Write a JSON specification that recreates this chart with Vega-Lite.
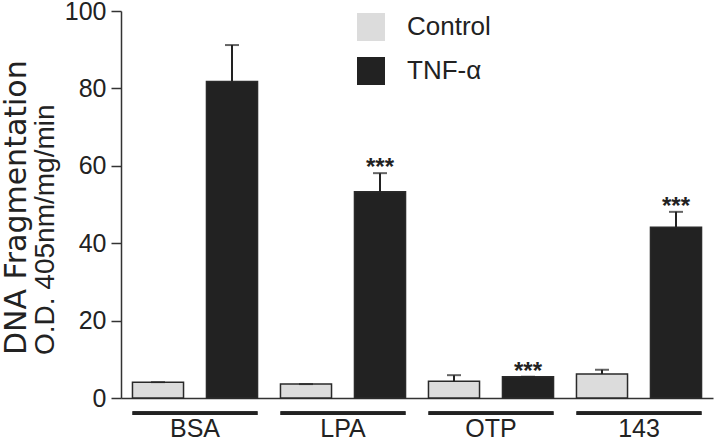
{
  "$schema": "https://vega.github.io/schema/vega-lite/v6.json",
  "width": 592,
  "height": 387,
  "autosize": "none",
  "padding": {"left": 121, "top": 11, "right": 7, "bottom": 45},
  "background": "white",
  "config": {"view": {"stroke": null}},
  "title": {
    "text": "DNA Fragmentation",
    "subtitle": "O.D. 405nm/mg/min",
    "orient": "left",
    "anchor": "start",
    "frame": "group",
    "font": "DejaVu Sans",
    "fontSize": 30,
    "fontWeight": "normal",
    "color": "#222222",
    "subtitleFont": "Liberation Sans",
    "subtitleFontSize": 28,
    "subtitleColor": "#222222",
    "subtitlePadding": 0,
    "offset": 4,
    "dx": 43
  },
  "data": {
    "values": [
      {"group": "BSA", "treatment": "Control", "value": 4.1, "upper": 4.1, "sig": ""},
      {"group": "BSA", "treatment": "TNF-α", "value": 81.8, "upper": 91.2, "sig": ""},
      {"group": "LPA", "treatment": "Control", "value": 3.6, "upper": 3.6, "sig": ""},
      {"group": "LPA", "treatment": "TNF-α", "value": 53.3, "upper": 58.1, "sig": "***"},
      {"group": "OTP", "treatment": "Control", "value": 4.3, "upper": 5.9, "sig": ""},
      {"group": "OTP", "treatment": "TNF-α", "value": 5.5, "upper": 5.5, "sig": "***"},
      {"group": "143", "treatment": "Control", "value": 6.2, "upper": 7.3, "sig": ""},
      {"group": "143", "treatment": "TNF-α", "value": 44.1, "upper": 48.1, "sig": "***"}
    ]
  },
  "encoding": {
    "x": {
      "field": "group",
      "type": "nominal",
      "sort": ["BSA", "LPA", "OTP", "143"],
      "scale": {"paddingInner": 0, "paddingOuter": 0},
      "axis": {
        "title": null,
        "ticks": false,
        "labelAngle": 0,
        "labelFont": "Liberation Sans",
        "labelFontSize": 25,
        "labelColor": "#222222",
        "labelPadding": 18,
        "domainColor": "#333333",
        "domainWidth": 1.5
      }
    },
    "xOffset": {
      "field": "treatment",
      "type": "nominal",
      "sort": ["Control", "TNF-α"],
      "scale": {"paddingInner": 0.31, "paddingOuter": 0.155}
    }
  },
  "layer": [
    {
      "mark": {"type": "bar", "stroke": "#2a2a2a", "strokeWidth": 1.5},
      "encoding": {
        "y": {
          "field": "value",
          "type": "quantitative",
          "scale": {"domain": [0, 100], "nice": false, "zero": true},
          "axis": {
            "title": null,
            "values": [0, 20, 40, 60, 80, 100],
            "grid": false,
            "tickSize": 10,
            "tickWidth": 1.5,
            "tickColor": "#333333",
            "domainColor": "#333333",
            "domainWidth": 1.5,
            "labelFont": "Liberation Sans",
            "labelFontSize": 25,
            "labelColor": "#222222",
            "labelPadding": 5
          }
        },
        "color": {
          "field": "treatment",
          "type": "nominal",
          "sort": ["Control", "TNF-α"],
          "scale": {"domain": ["Control", "TNF-α"], "range": ["#dcdcdc", "#222222"]},
          "legend": {
            "title": null,
            "orient": "none",
            "legendX": 236,
            "legendY": 2,
            "padding": 0,
            "symbolType": "square",
            "symbolSize": 784,
            "symbolStrokeWidth": 0,
            "labelFont": "Liberation Sans",
            "labelFontSize": 26,
            "labelColor": "#222222",
            "labelOffset": 22,
            "rowPadding": 16
          }
        }
      }
    },
    {
      "mark": {"type": "rule", "color": "#222222", "strokeWidth": 2},
      "encoding": {
        "y": {"field": "value", "type": "quantitative"},
        "y2": {"field": "upper"}
      }
    },
    {
      "mark": {"type": "tick", "color": "#222222", "thickness": 2, "size": 14, "orient": "horizontal"},
      "encoding": {
        "y": {"field": "upper", "type": "quantitative"}
      }
    },
    {
      "mark": {"type": "text", "font": "Liberation Sans", "fontSize": 24, "fontWeight": "bold", "color": "#222222", "baseline": "alphabetic", "dy": 2},
      "encoding": {
        "y": {"field": "upper", "type": "quantitative"},
        "text": {"field": "sig"}
      }
    },
    {
      "mark": {"type": "bar", "color": "#222222", "width": {"band": 0.845}},
      "encoding": {
        "xOffset": {"value": 0},
        "y": {"datum": -3.4, "type": "quantitative"},
        "y2": {"datum": -4.4}
      }
    }
  ]
}
